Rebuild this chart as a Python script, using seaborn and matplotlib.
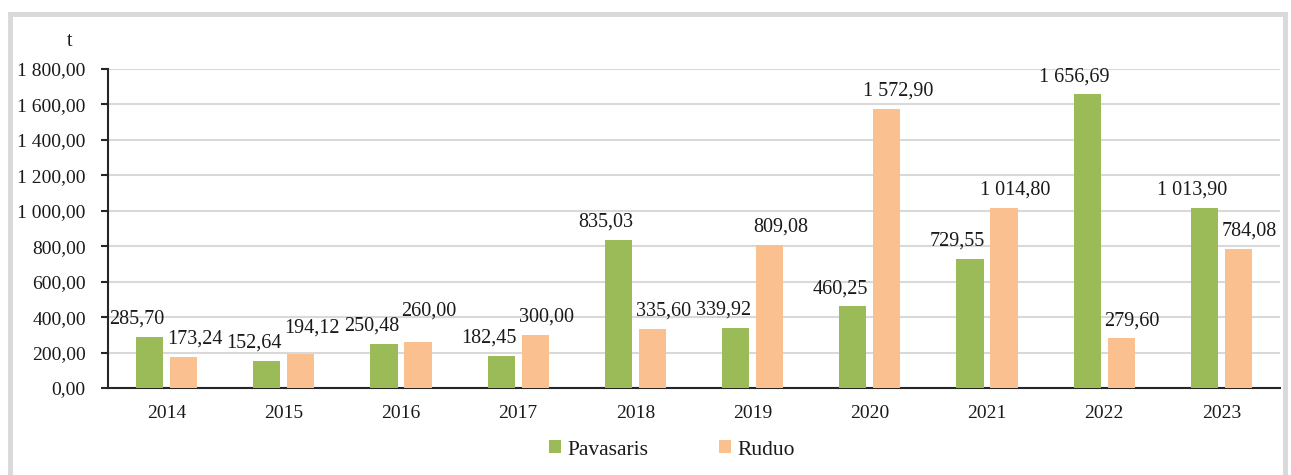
import matplotlib
matplotlib.use("Agg")
import matplotlib.pyplot as plt
import seaborn as sns
import pandas as pd
import numpy as np
from matplotlib.patches import Rectangle
from matplotlib.ticker import FuncFormatter
from matplotlib.transforms import offset_copy

years = ["2014", "2015", "2016", "2017", "2018", "2019", "2020", "2021", "2022", "2023"]
pavasaris = [285.70, 152.64, 250.48, 182.45, 835.03, 339.92, 460.25, 729.55, 1656.69, 1013.90]
ruduo = [173.24, 194.12, 260.00, 300.00, 335.60, 809.08, 1572.90, 1014.80, 279.60, 784.08]
series_names = ["Pavasaris", "Ruduo"]
y_ticks = [0, 200, 400, 600, 800, 1000, 1200, 1400, 1600, 1800]
unit_label = "t"

colors = ["#9BBB59", "#FAC090"]

df = pd.DataFrame({
    "year": years * 2,
    "value": pavasaris + ruduo,
    "series": [series_names[0]] * len(years) + [series_names[1]] * len(years),
})

sns.set_theme(style="white")
plt.rcParams["font.family"] = ["Liberation Serif", "DejaVu Serif"]

W, H = 1291, 475
fig = plt.figure(figsize=(W / 100, H / 100), dpi=100)
ax = fig.add_axes([108 / W, 1 - 388 / H, (1280 - 108) / W, (388 - 69) / H])

sns.barplot(data=df, x="year", y="value", hue="series", order=years,
            hue_order=series_names, palette=colors, width=0.58, gap=0.2,
            saturation=1, edgecolor="none", linewidth=0, ax=ax, legend=True, zorder=3)

ax.set_xlim(-0.5, len(years) - 0.5)
ax.set_ylim(0, 1800)
ax.set_yticks(y_ticks)

def fmt(v, pos=None):
    s = f"{v:,.2f}"
    s = s.replace(",", " ").replace(".", ",")
    return s

ax.yaxis.set_major_formatter(FuncFormatter(fmt))
ax.grid(axis="y", color="#D9D9D9", linewidth=1.5, zorder=0)
ax.set_axisbelow(True)
for side in ["top", "right"]:
    ax.spines[side].set_visible(False)
ax.spines["left"].set_color("#262626")
ax.spines["left"].set_linewidth(1.5)
ax.spines["bottom"].set_color("#262626")
ax.spines["bottom"].set_linewidth(1.5)
ax.tick_params(axis="y", length=5, width=1.5, color="#262626", pad=11, labelsize=14, direction="out", left=True)
ax.tick_params(axis="x", length=0, pad=12, labelsize=14)
for lbl in ax.get_yticklabels() + ax.get_xticklabels():
    lbl.set_color("#1a1a1a")
ax.set_xlabel("")
ax.set_ylabel("")

# data labels
shifts = [-9, 8]
texts = [[], []]
for ci, cont in enumerate(ax.containers):
    vals = [pavasaris, ruduo][ci]
    for bar, v in zip(cont, vals):
        x = bar.get_x() + bar.get_width() / 2
        tr = offset_copy(ax.transData, fig=fig, x=shifts[ci], y=6, units="points")
        t = ax.text(x, bar.get_height(), fmt(v), ha="center", va="bottom",
                    fontsize=14.5, color="#1a1a1a", transform=tr, zorder=5)
        texts[ci].append(t)

# simple collision avoidance: lift the label of the taller bar above the other
fig.canvas.draw()
renderer = fig.canvas.get_renderer()
pad = 5
for i in range(len(years)):
    a, b = texts[0][i], texts[1][i]
    ba, bb = a.get_window_extent(renderer), b.get_window_extent(renderer)
    x_ov = (ba.x1 + pad > bb.x0) and (bb.x1 + pad > ba.x0)
    y_ov = (ba.y1 > bb.y0 + 3) and (bb.y1 > ba.y0 + 3)
    if x_ov and y_ov:
        low, high = (a, b) if pavasaris[i] <= ruduo[i] else (b, a)
        bl, bh = low.get_window_extent(renderer), high.get_window_extent(renderer)
        dy_px = bl.y1 - bh.y0 - 4
        x0, y0 = high.get_position()
        disp = ax.transData.transform((x0, y0))
        new = ax.transData.inverted().transform((disp[0], disp[1] + dy_px))
        high.set_position((x0, new[1]))

fig.text(70 / W, 1 - 42 / H, unit_label, ha="center", va="center", fontsize=14.5, color="#1a1a1a")

leg = ax.legend(loc="center", bbox_to_anchor=(672 / W, 1 - 450 / H), bbox_transform=fig.transFigure,
                ncol=2, frameon=False, fontsize=15.5, handlelength=0.55, handleheight=0.55,
                handletextpad=0.3, columnspacing=3.3)
for t in leg.get_texts():
    t.set_color("#1a1a1a")
for h in leg.legend_handles:
    h.set_edgecolor("none")

fig.patches.append(Rectangle((10 / W, -0.1), (1285 - 10) / W, 1.1 - 14 / H,
                             transform=fig.transFigure, fill=False,
                             edgecolor="#D9D9D9", linewidth=3.5, zorder=0))

fig.savefig("out.png", dpi=100, facecolor="white")
